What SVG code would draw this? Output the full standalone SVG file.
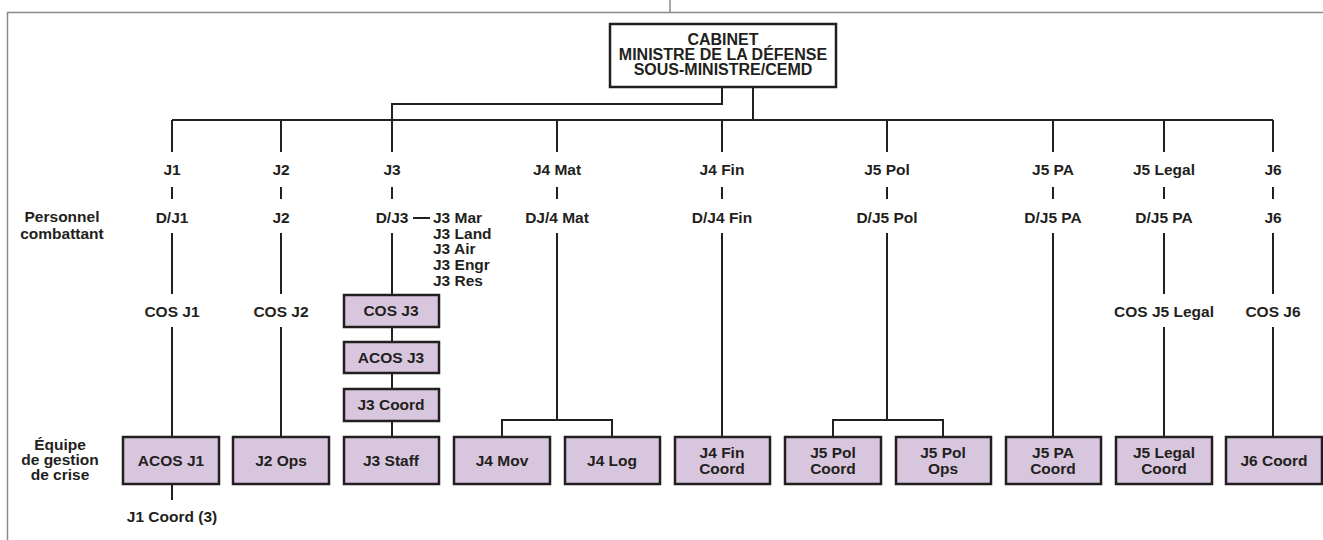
<svg xmlns="http://www.w3.org/2000/svg" width="1323" height="540" viewBox="0 0 1323 540">
<style>
text{font-family:"Liberation Sans",Arial,sans-serif;font-weight:bold;font-size:15.5px;fill:#231f20;text-anchor:middle}
.l{text-anchor:start}
.t{font-size:16px}
.box{fill:#d8c6de;stroke:#231f20;stroke-width:2.5}
.top{fill:#fff;stroke:#231f20;stroke-width:2.5}
.c{fill:none;stroke:#231f20;stroke-width:2}
.f{fill:none;stroke:#8a8a8a;stroke-width:1.5}
</style>
<rect width="1323" height="540" fill="#fff"/>
<g id="frame">
<path class="f" d="M7.5,540 V12.5 H1323 M670,0 V12.5"/>
</g>
<g id="connectors">
<path class="c" d="M722,87 V104 H392 V120 M753,87 V120 M172,120 H1273"/>
<path class="c" d="M172,120 V152 M281,120 V152 M392,120 V152 M557,120 V152 M722,120 V152 M887,120 V152 M1053,120 V152 M1164,120 V152 M1273,120 V152"/>
<path class="c" d="M172,187 V199 M281,187 V199 M392,187 V199 M557,187 V199 M722,187 V199 M887,187 V199 M1053,187 V199 M1164,187 V199 M1273,187 V199"/>
<path class="c" d="M172,233 V294 M281,233 V294 M1164,233 V294 M1273,233 V294"/>
<path class="c" d="M172,327 V437 M281,327 V437 M1164,327 V437 M1273,327 V437 M172,484 V500"/>
<path class="c" d="M392,233 V295 M392,327 V342 M392,373 V389 M392,421 V437"/>
<path class="c" d="M557,233 V420 M502,437 V420 H612 V437"/>
<path class="c" d="M722,233 V437 M1053,233 V437"/>
<path class="c" d="M887,233 V420 M833,437 V420 H943 V437"/>
<path class="c" d="M413,218 H430"/>
</g>
<g id="cabinet">
<rect class="top" x="610" y="24" width="226" height="63"/>
<text class="t" x="723" y="45">CABINET</text>
<text class="t" x="723" y="60">MINISTRE DE LA DÉFENSE</text>
<text class="t" x="723" y="75">SOUS-MINISTRE/CEMD</text>
</g>
<g id="side-labels">
<text x="62" y="222">Personnel</text>
<text x="62" y="239">combattant</text>
<text x="60" y="450">Équipe</text>
<text x="60" y="465">de gestion</text>
<text x="60" y="480">de crise</text>
</g>
<g id="j1">
<text x="172" y="175">J1</text>
<text x="172" y="223">D/J1</text>
<text x="172" y="317">COS J1</text>
<rect class="box" x="123" y="437" width="96" height="47"/>
<text x="171" y="466">ACOS J1</text>
<text x="172" y="522">J1 Coord (3)</text>
</g>
<g id="j2">
<text x="281" y="175">J2</text>
<text x="281" y="223">J2</text>
<text x="281" y="317">COS J2</text>
<rect class="box" x="233" y="437" width="96" height="47"/>
<text x="281" y="466">J2 Ops</text>
</g>
<g id="j3">
<text x="392" y="175">J3</text>
<text x="392" y="223">D/J3</text>
<text class="l" x="433" y="223">J3 Mar</text>
<text class="l" x="433" y="239">J3 Land</text>
<text class="l" x="433" y="254">J3 Air</text>
<text class="l" x="433" y="270">J3 Engr</text>
<text class="l" x="433" y="286">J3 Res</text>
<rect class="box" x="344" y="295" width="95" height="32"/>
<text x="391" y="316">COS J3</text>
<rect class="box" x="344" y="342" width="95" height="31"/>
<text x="391" y="363">ACOS J3</text>
<rect class="box" x="344" y="389" width="95" height="32"/>
<text x="391" y="410">J3 Coord</text>
<rect class="box" x="344" y="437" width="95" height="47"/>
<text x="391" y="466">J3 Staff</text>
</g>
<g id="j4mat">
<text x="557" y="175">J4 Mat</text>
<text x="557" y="223">DJ/4 Mat</text>
<rect class="box" x="454" y="437" width="96" height="47"/>
<text x="502" y="466">J4 Mov</text>
<rect class="box" x="565" y="437" width="95" height="47"/>
<text x="612" y="466">J4 Log</text>
</g>
<g id="j4fin">
<text x="722" y="175">J4 Fin</text>
<text x="722" y="223">D/J4 Fin</text>
<rect class="box" x="675" y="437" width="95" height="47"/>
<text x="722" y="458">J4 Fin</text>
<text x="722" y="474">Coord</text>
</g>
<g id="j5pol">
<text x="887" y="175">J5 Pol</text>
<text x="887" y="223">D/J5 Pol</text>
<rect class="box" x="785" y="437" width="96" height="47"/>
<text x="833" y="458">J5 Pol</text>
<text x="833" y="474">Coord</text>
<rect class="box" x="896" y="437" width="95" height="47"/>
<text x="943" y="458">J5 Pol</text>
<text x="943" y="474">Ops</text>
</g>
<g id="j5pa">
<text x="1053" y="175">J5 PA</text>
<text x="1053" y="223">D/J5 PA</text>
<rect class="box" x="1006" y="437" width="95" height="47"/>
<text x="1053" y="458">J5 PA</text>
<text x="1053" y="474">Coord</text>
</g>
<g id="j5legal">
<text x="1164" y="175">J5 Legal</text>
<text x="1164" y="223">D/J5 PA</text>
<text x="1164" y="317">COS J5 Legal</text>
<rect class="box" x="1116" y="437" width="96" height="47"/>
<text x="1164" y="458">J5 Legal</text>
<text x="1164" y="474">Coord</text>
</g>
<g id="j6">
<text x="1273" y="175">J6</text>
<text x="1273" y="223">J6</text>
<text x="1273" y="317">COS J6</text>
<rect class="box" x="1226" y="437" width="96" height="47"/>
<text x="1274" y="466">J6 Coord</text>
</g>
</svg>
